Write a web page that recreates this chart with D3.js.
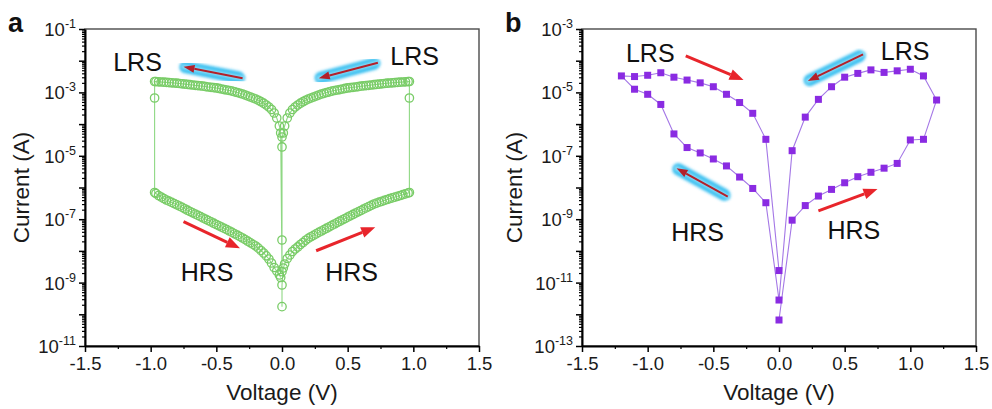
<!DOCTYPE html>
<html>
<head>
<meta charset="utf-8">
<script src="https://cdn.jsdelivr.net/npm/d3@7"></script>
<style>
  body { margin: 0; background: #fff; }
  svg { display: block; font-family: "Liberation Sans", Arial, sans-serif; }
</style>
</head>
<body>
<svg id="chart" width="992" height="409"></svg>
<script>
// ---- panel a: |V| grid shared by all four sweeps (V)
const gridV = [0.01, 0.02, 0.04, 0.06, 0.08, 0.10, 0.12, 0.14, 0.16, 0.18, 0.20, 0.22, 0.24, 0.26, 0.28, 0.30,
  0.32, 0.34, 0.36, 0.38, 0.40, 0.42, 0.44, 0.46, 0.48, 0.50, 0.52, 0.54, 0.56, 0.58, 0.60, 0.62, 0.64,
  0.66, 0.68, 0.70, 0.72, 0.74, 0.76, 0.78, 0.80, 0.82, 0.84, 0.86, 0.88, 0.90, 0.92, 0.94, 0.96, 0.97];

// LRS current (A), same for +V and -V sweeps
const lrsI = [5.24e-5, 8.71e-5, 1.56e-4, 2.24e-4, 2.89e-4, 3.46e-4, 4.01e-4, 4.56e-4, 5.09e-4, 5.64e-4,
  6.19e-4, 6.65e-4, 7.16e-4, 7.69e-4, 8.28e-4, 8.91e-4, 9.38e-4, 9.93e-4, 1.04e-3, 1.10e-3,
  1.15e-3, 1.19e-3, 1.23e-3, 1.28e-3, 1.33e-3, 1.38e-3, 1.41e-3, 1.45e-3, 1.48e-3, 1.52e-3,
  1.57e-3, 1.60e-3, 1.64e-3, 1.67e-3, 1.71e-3, 1.75e-3, 1.79e-3, 1.83e-3, 1.87e-3, 1.91e-3,
  1.95e-3, 1.98e-3, 2.01e-3, 2.04e-3, 2.07e-3, 2.10e-3, 2.13e-3, 2.16e-3, 2.19e-3, 2.21e-3];

// HRS current (A), positive sweep
const hrsPosI = [2.89e-9, 3.86e-9, 5.75e-9, 7.43e-9, 9.57e-9, 1.15e-8, 1.33e-8, 1.59e-8, 1.84e-8, 2.16e-8,
  2.49e-8, 2.79e-8, 3.10e-8, 3.44e-8, 3.84e-8, 4.25e-8, 4.70e-8, 5.20e-8, 5.75e-8, 6.37e-8,
  7.06e-8, 7.82e-8, 8.65e-8, 9.57e-8, 1.05e-7, 1.16e-7, 1.28e-7, 1.41e-7, 1.56e-7, 1.71e-7,
  1.88e-7, 2.07e-7, 2.27e-7, 2.49e-7, 2.74e-7, 3.01e-7, 3.22e-7, 3.44e-7, 3.67e-7, 3.92e-7,
  4.18e-7, 4.44e-7, 4.70e-7, 4.98e-7, 5.27e-7, 5.60e-7, 5.93e-7, 6.28e-7, 6.70e-7, 6.95e-7];

// HRS current (A), negative sweep (indexed by |V|)
const hrsNegI = [1.45e-9, 1.74e-9, 2.32e-9, 2.99e-9, 4.15e-9, 5.55e-9, 7.00e-9, 8.59e-9, 1.03e-8, 1.22e-8,
  1.43e-8, 1.60e-8, 1.80e-8, 2.02e-8, 2.27e-8, 2.55e-8, 2.82e-8, 3.13e-8, 3.46e-8, 3.84e-8,
  4.25e-8, 4.67e-8, 5.13e-8, 5.64e-8, 6.19e-8, 6.81e-8, 7.48e-8, 8.22e-8, 9.04e-8, 9.93e-8,
  1.09e-7, 1.20e-7, 1.32e-7, 1.45e-7, 1.59e-7, 1.75e-7, 1.92e-7, 2.13e-7, 2.36e-7, 2.59e-7,
  2.84e-7, 3.10e-7, 3.39e-7, 3.70e-7, 4.04e-7, 4.50e-7, 5.01e-7, 5.60e-7, 6.47e-7, 6.95e-7];

const zeroStartA = [1.74e-10, 8.39e-10];               // points at 0 V before the + sweep
const zeroMidA = [3.92e-5, 1.90e-5, 2.21e-8, 2.21e-9]; // points at 0 V between sweeps
const switchA = 6.65e-4;                               // intermediate point at the switching voltage

// ---- panel b
const bV = [0.1, 0.2, 0.3, 0.4, 0.5, 0.6, 0.7, 0.8, 0.9, 1.0, 1.1, 1.2];
const bHrsPos = [9.33e-10, 2.69e-9, 5.37e-9, 8.71e-9, 1.41e-8, 2.19e-8, 3.02e-8, 4.07e-8, 5.75e-8, 3.16e-7, 3.31e-7, 5.75e-6];
const bLrsPos = [1.45e-7, 1.66e-6, 6.03e-6, 1.51e-5, 3.02e-5, 3.98e-5, 5.13e-5, 4.27e-5, 4.79e-5, 5.37e-5, 3.31e-5];
const bNegLower = [3.31e-9, 9.33e-9, 2.14e-8, 4.79e-8, 7.94e-8, 1.23e-7, 1.82e-7, 4.90e-7, 4.17e-6, 8.71e-6, 1.26e-5, 3.31e-5];
const bNegUpper = [3.31e-7, 2.19e-6, 4.79e-6, 8.71e-6, 1.51e-5, 2.00e-5, 2.45e-5, 3.02e-5, 4.17e-5, 3.47e-5, 3.16e-5];
const bZero = [6.61e-13, 2.82e-12, 2.40e-11];

// ---- tick labels
const xTicks = [-1.5, -1.0, -0.5, 0.0, 0.5, 1.0, 1.5];
const yLabelExpA = [-1, -3, -5, -7, -9, -11];
const yLabelExpB = [-3, -5, -7, -9, -11, -13];

// ---- annotations (data coords: V, A)
const notesA = [
  { text: "LRS", v: -1.10, i: 9.1e-3 }, { text: "LRS", v: 1.01, i: 1.41e-2 },
  { text: "HRS", v: -0.57, i: 2.14e-9 }, { text: "HRS", v: 0.53, i: 2.14e-9 }
];
const arrowsA = [
  { from: [-0.30, 2.79e-3], to: [-0.75, 6.47e-3], glow: true },
  { from: [0.73, 8.65e-3], to: [0.28, 2.79e-3], glow: true },
  { from: [-0.75, 8.34e-8], to: [-0.32, 1.21e-8], glow: false },
  { from: [0.26, 1.01e-8], to: [0.71, 5.55e-8], glow: false }
];
const notesB = [
  { text: "LRS", v: -0.98, i: 1.75e-4 }, { text: "LRS", v: 0.96, i: 2.02e-4 },
  { text: "HRS", v: -0.62, i: 3.94e-10 }, { text: "HRS", v: 0.57, i: 4.56e-10 }
];
const arrowsB = [
  { from: [-0.71, 1.41e-4], to: [-0.27, 2.46e-5], glow: false },
  { from: [0.64, 1.59e-4], to: [0.22, 2.29e-5], glow: true },
  { from: [-0.39, 5.13e-9], to: [-0.78, 4.04e-8], glow: true },
  { from: [0.30, 1.82e-9], to: [0.75, 8.97e-9], glow: false }
];

// build sweep order for panel a
const last = gridV.length - 1;
const seqA = [];
zeroStartA.forEach(i => seqA.push([0, i]));
gridV.forEach((v, k) => seqA.push([v, hrsPosI[k]]));
seqA.push([gridV[last], switchA]);
for (let k = last; k >= 0; k--) seqA.push([gridV[k], lrsI[k]]);
zeroMidA.forEach(i => seqA.push([0, i]));
gridV.forEach((v, k) => seqA.push([-v, lrsI[k]]));
seqA.push([-gridV[last], switchA]);
for (let k = last; k >= 0; k--) seqA.push([-gridV[k], hrsNegI[k]]);

// sweep order for panel b
const seqB = [[0, bZero[0]]];
bV.forEach((v, k) => seqB.push([v, bHrsPos[k]]));
for (let k = bLrsPos.length - 1; k >= 0; k--) seqB.push([bV[k], bLrsPos[k]]);
seqB.push([0, bZero[1]]);
bV.forEach((v, k) => seqB.push([-v, bNegLower[k]]));
for (let k = bNegUpper.length - 1; k >= 0; k--) seqB.push([-bV[k], bNegUpper[k]]);
seqB.push([0, bZero[2]]);

const svg = d3.select("#chart");
const defs = svg.append("defs");
defs.append("filter").attr("id", "blur")
  .attr("x", "-30%").attr("y", "-30%").attr("width", "160%").attr("height", "160%")
  .append("feGaussianBlur").attr("stdDeviation", 1.6);

function drawArrow(g, x1, y1, x2, y2, glow) {
  const ang = Math.atan2(y2 - y1, x2 - x1);
  const head = glow ? 11 : 14, hw = glow ? 4 : 5.5;
  const col = glow ? "#b3202a" : "#e8252b";
  if (glow) {
    g.append("line")
      .attr("x1", x1 + 4 * Math.cos(ang)).attr("y1", y1 + 4 * Math.sin(ang))
      .attr("x2", x2 - 2 * Math.cos(ang)).attr("y2", y2 - 2 * Math.sin(ang))
      .attr("stroke", "#32bdf0").attr("stroke-width", 12).attr("stroke-linecap", "round")
      .attr("filter", "url(#blur)");
    g.append("line")
      .attr("x1", x1).attr("y1", y1).attr("x2", x2).attr("y2", y2)
      .attr("stroke", "#8fdcf6").attr("stroke-width", 5).attr("stroke-linecap", "round")
      .attr("filter", "url(#blur)");
  }
  const bx = x2 - head * Math.cos(ang), by = y2 - head * Math.sin(ang);
  g.append("line")
    .attr("x1", x1).attr("y1", y1).attr("x2", bx).attr("y2", by)
    .attr("stroke", col).attr("stroke-width", glow ? 2 : 3);
  g.append("path")
    .attr("d", `M${x2},${y2}L${bx + hw * Math.sin(ang)},${by - hw * Math.cos(ang)}L${bx - hw * Math.sin(ang)},${by + hw * Math.cos(ang)}Z`)
    .attr("fill", col);
}

function drawPanel(p) {
  const x = d3.scaleLinear().domain([-1.5, 1.5]).range([p.left, p.right]);
  const y = d3.scaleLog().domain(p.yDomain).range([p.bottom, p.top]);
  const g = svg.append("g");

  const lo = Math.round(Math.log10(p.yDomain[0])), hi = Math.round(Math.log10(p.yDomain[1]));
  const decades = d3.range(lo, hi + 1).map(e => Math.pow(10, e));
  const minors = [];
  for (let e = lo; e < hi; e++) for (let m = 2; m <= 9; m++) minors.push(m * Math.pow(10, e));

  // frame
  g.append("rect")
    .attr("x", p.left).attr("y", p.top)
    .attr("width", p.right - p.left).attr("height", p.bottom - p.top)
    .attr("fill", "none").attr("stroke", "#4a4a4a").attr("stroke-width", 1.4);

  // y axis
  g.append("g").attr("transform", `translate(${p.left},0)`)
    .call(d3.axisLeft(y).tickValues(minors).tickSize(3).tickFormat(""))
    .call(s => s.select(".domain").remove())
    .selectAll("line").attr("stroke", "#000").attr("stroke-width", 1.2);
  g.append("g").attr("transform", `translate(${p.left},0)`)
    .call(d3.axisLeft(y).tickValues(decades).tickSizeInner(6).tickSizeOuter(0).tickFormat(""))
    .call(s => s.select(".domain").attr("stroke", "#000").attr("stroke-width", 2))
    .selectAll("line").attr("stroke", "#000").attr("stroke-width", 1.5);

  // y tick labels 10^n
  p.labelExp.forEach(e => {
    const t = g.append("text")
      .attr("x", p.left - 9).attr("y", y(Math.pow(10, e)) + 7)
      .attr("text-anchor", "end").attr("font-size", 18.5).attr("fill", "#1a1a1a");
    t.append("tspan").text("10");
    t.append("tspan").attr("dy", -8).attr("font-size", 12.5).text(String(e));
  });

  // x axis
  g.append("g").attr("transform", `translate(0,${p.bottom})`)
    .call(d3.axisBottom(x).tickValues(d3.range(-1.25, 1.5, 0.5)).tickSize(3).tickFormat(""))
    .call(s => s.select(".domain").remove())
    .selectAll("line").attr("stroke", "#000").attr("stroke-width", 1.2);
  const xa = g.append("g").attr("transform", `translate(0,${p.bottom})`)
    .call(d3.axisBottom(x).tickValues(xTicks).tickSizeInner(6).tickSizeOuter(0).tickPadding(5)
      .tickFormat(d => d.toFixed(1)));
  xa.select(".domain").attr("stroke", "#000").attr("stroke-width", 2);
  xa.selectAll("line").attr("stroke", "#000").attr("stroke-width", 1.5);
  xa.selectAll("text").attr("font-size", 18.5).attr("fill", "#1a1a1a")
    .attr("font-family", "Liberation Sans, Arial, sans-serif");

  // axis titles
  g.append("text")
    .attr("x", (p.left + p.right) / 2).attr("y", 400)
    .attr("text-anchor", "middle").attr("font-size", 22.5).attr("fill", "#1a1a1a")
    .text("Voltage (V)");
  g.append("text")
    .attr("transform", `translate(${p.titleX},${(p.top + p.bottom) / 2}) rotate(-90)`)
    .attr("text-anchor", "middle").attr("font-size", 22.5).attr("fill", "#1a1a1a")
    .text("Current (A)");

  // panel letter
  g.append("text")
    .attr("x", p.letterX).attr("y", 32)
    .attr("font-size", 27).attr("font-weight", "bold").attr("fill", "#111")
    .text(p.letter);

  // data
  const line = d3.line().x(d => x(d[0])).y(d => y(d[1]));
  g.append("path").datum(p.seq)
    .attr("d", line).attr("fill", "none")
    .attr("stroke", p.lineColor).attr("stroke-width", 1.1);

  if (p.marker === "circle") {
    g.selectAll(".pt").data(p.seq).enter().append("circle")
      .attr("cx", d => x(d[0])).attr("cy", d => y(d[1])).attr("r", 4.2)
      .attr("fill", "none").attr("stroke", p.color).attr("stroke-width", 1.3);
  } else {
    g.selectAll(".pt").data(p.seq).enter().append("rect")
      .attr("x", d => x(d[0]) - 3.5).attr("y", d => y(d[1]) - 3.5)
      .attr("width", 7).attr("height", 7).attr("fill", p.color);
  }

  // annotations
  p.arrows.forEach(a => drawArrow(g, x(a.from[0]), y(a.from[1]), x(a.to[0]), y(a.to[1]), a.glow));
  g.selectAll(".note").data(p.notes).enter().append("text")
    .attr("x", d => x(d.v)).attr("y", d => y(d.i))
    .attr("dy", "0.36em").attr("text-anchor", "middle")
    .attr("font-size", 25).attr("fill", "#111")
    .text(d => d.text);
}

drawPanel({
  left: 85, right: 479, top: 29, bottom: 346, yDomain: [1e-11, 1e-1],
  labelExp: yLabelExpA, titleX: 29, letter: "a", letterX: 8,
  seq: seqA, marker: "circle", color: "#79cc67", lineColor: "#8fd884",
  notes: notesA, arrows: arrowsA
});
drawPanel({
  left: 582, right: 976, top: 29, bottom: 346, yDomain: [1e-13, 1e-3],
  labelExp: yLabelExpB, titleX: 522, letter: "b", letterX: 505,
  seq: seqB, marker: "square", color: "#8a2be2", lineColor: "#a477e6",
  notes: notesB, arrows: arrowsB
});
</script>
</body>
</html>
